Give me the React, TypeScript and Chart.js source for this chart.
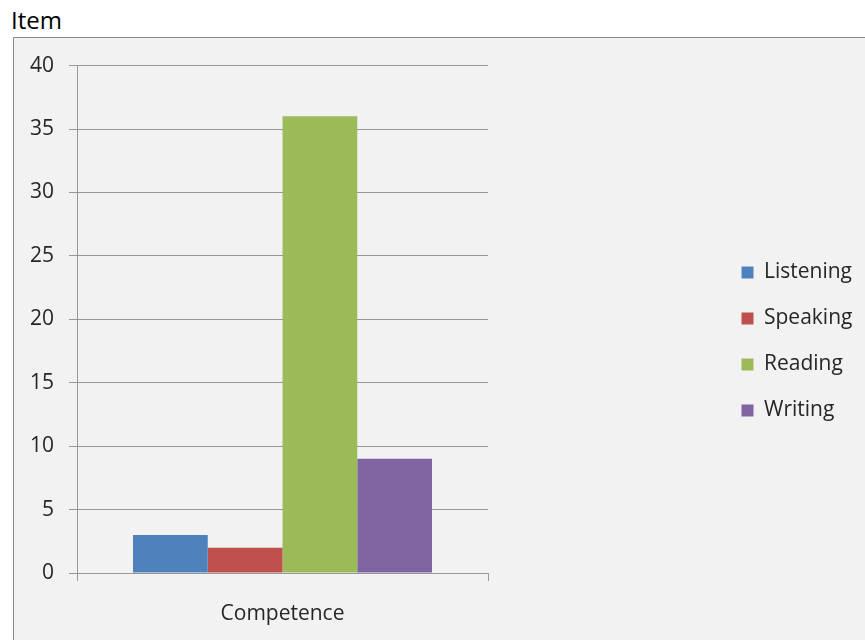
import { useEffect, useRef } from "react";
import { Chart, registerables, layouts } from "chart.js";

Chart.register(...registerables);

// Chart data
const categories = ["Competence"];
const seriesNames = ["Listening", "Speaking", "Reading", "Writing"];
const listening = [3];
const speaking = [2];
const reading = [36];
const writing = [9];
const seriesColors = ["#4f81bd", "#c0504d", "#9bbb59", "#8064a2"];
const yMin = 0;
const yMax = 40;
const yStep = 5;

const FONT = "'Open Sans', 'DejaVu Sans', sans-serif";
const CANVAS_W = 843;
const CANVAS_H = 602;
const PLOT_RIGHT = 474; // right edge of the plot area, in canvas pixels
const TOP_GAP = 22; // space above the plot area, under the outer padding
const GRID = "#989898";
const TEXT = "#262626";

// Empty layout boxes: one above the plot area, one between the plot area and the legend.
const spacers = {
  id: "spacers",
  beforeInit(chart: any) {
    const makeBox = (position: string, weight: number, horizontal: boolean) => ({
      position,
      weight,
      fullSize: false,
      options: {},
      left: 0,
      top: 0,
      right: 0,
      bottom: 0,
      width: 0,
      height: 0,
      isHorizontal() {
        return horizontal;
      },
      update(maxWidth: number, maxHeight: number) {
        if (horizontal) {
          this.width = maxWidth;
          this.height = TOP_GAP;
        } else {
          const legendW = chart.legend ? chart.legend.width : 0;
          this.width = Math.max(0, chart.width - legendW - PLOT_RIGHT);
          this.height = maxHeight;
        }
      },
      draw() {},
    });
    layouts.addBox(chart, makeBox("top", 500, true));
    layouts.addBox(chart, makeBox("right", 500, false));
  },
};

function CompetenceChart() {
  const canvasRef = useRef<HTMLCanvasElement | null>(null);

  useEffect(() => {
    const canvas = canvasRef.current;
    if (!canvas) return;
    const series = [listening, speaking, reading, writing];
    const chart = new Chart(canvas, {
      type: "bar",
      data: {
        labels: categories,
        datasets: seriesNames.map((name, i) => ({
          label: name,
          data: series[i],
          backgroundColor: seriesColors[i],
          borderWidth: 0,
          categoryPercentage: 0.7275,
          barPercentage: 1,
        })),
      },
      plugins: [spacers],
      options: {
        responsive: false,
        animation: false,
        devicePixelRatio: 1,
        layout: { padding: { top: 5, bottom: 0, left: 0, right: 0 } },
        plugins: {
          title: { display: false },
          tooltip: { enabled: false },
          legend: {
            position: "right",
            align: "center",
            labels: {
              boxWidth: 12,
              boxHeight: 12,
              padding: 25,
              color: TEXT,
              font: { family: FONT, size: 21 },
            },
          },
        },
        scales: {
          x: {
            offset: true,
            grid: {
              offset: true,
              drawOnChartArea: false,
              drawTicks: true,
              tickLength: 8,
              color: GRID,
            },
            border: { display: true, color: GRID, width: 1 },
            ticks: {
              color: TEXT,
              padding: 20,
              font: { family: FONT, size: 21 },
            },
            afterFit(scale: any) {
              scale.height = 67;
            },
          },
          y: {
            min: yMin,
            max: yMax,
            grid: {
              color: GRID,
              tickLength: 8,
              drawTicks: true,
            },
            border: { display: true, color: GRID, width: 1 },
            ticks: {
              stepSize: yStep,
              color: TEXT,
              padding: 15,
              font: { family: FONT, size: 21 },
            },
            afterFit(scale: any) {
              scale.width = 63;
            },
          },
        },
      },
    });
    return () => chart.destroy();
  }, []);

  return (
    <canvas
      ref={canvasRef}
      width={CANVAS_W}
      height={CANVAS_H}
      style={{ position: "absolute", left: 14, top: 38, width: CANVAS_W, height: CANVAS_H }}
    />
  );
}

export default function App() {
  return (
    <div
      style={{
        position: "fixed",
        left: 0,
        top: 0,
        width: 865,
        height: 640,
        overflow: "hidden",
        background: "#ffffff",
      }}
    >
      <div
        style={{
          position: "absolute",
          left: 11,
          top: 6,
          fontFamily: FONT,
          fontSize: 24,
          lineHeight: "28px",
          color: "#000",
        }}
      >
        Item
      </div>
      <div
        style={{
          position: "absolute",
          left: 13,
          top: 37,
          width: 900,
          height: 700,
          boxSizing: "border-box",
          border: "1px solid #8a8a8a",
          background: "#f2f2f2",
        }}
      />
      <CompetenceChart />
    </div>
  );
}
